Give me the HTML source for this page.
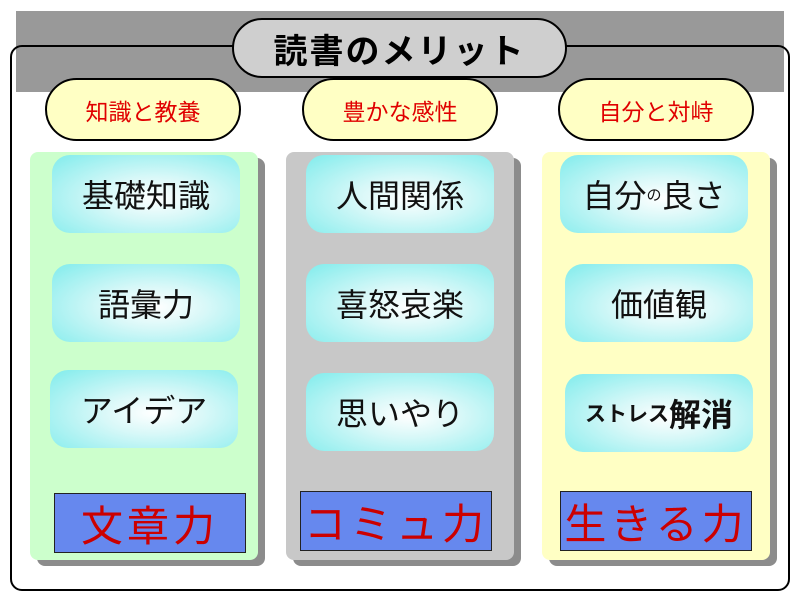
<!DOCTYPE html><html><head><meta charset="utf-8"><style>
body{margin:0;width:800px;height:601px;background:#fff;position:relative;overflow:hidden;font-family:"Liberation Sans","Noto Sans CJK JP",sans-serif}
div{position:absolute;box-sizing:border-box}
.c{display:flex;align-items:center;justify-content:center;white-space:nowrap}
.band{left:16px;top:11px;width:768px;height:81px;background:#999}
.outer{left:10px;top:45px;width:780px;height:546px;border:2px solid #000;border-radius:12px}
.title{left:232px;top:18px;width:335px;height:60px;background:#cfcfcf;border:2px solid #000;border-radius:30px;font-size:34px;font-weight:bold;letter-spacing:2px}
.pill{top:78px;width:196px;height:63px;background:#ffffc4;border:2px solid #000;border-radius:32px;color:#e00000;font-size:23px}
.col{top:152px;width:228px;height:408px;border-radius:8px;box-shadow:7px 6px 0 #8c8c8c}
.btn{width:188px;height:78px;border-radius:18px;background:radial-gradient(ellipse at 55% 55%,#fff 0%,#d8f8f8 35%,#80ecec 100%);font-size:32px;color:#111}
.blue{width:192px;height:60px;background:#6688ee;border:1px solid #222;color:#cc0000;font-size:42px;letter-spacing:4px}
</style></head><body>
<div class="band"></div>
<div class="outer"></div>
<div class="title c">読書のメリット</div>
<div class="pill c" style="left:45px">知識と教養</div>
<div class="pill c" style="left:302px">豊かな感性</div>
<div class="pill c" style="left:558px">自分と対峙</div>
<div class="col" style="left:30px;background:#ccffcc"></div>
<div class="col" style="left:286px;background:#c8c8c8"></div>
<div class="col" style="left:542px;background:#ffffc4"></div>
<div class="btn c" style="left:52px;top:155px">基礎知識</div>
<div class="btn c" style="left:52px;top:264px">語彙力</div>
<div class="btn c" style="left:50px;top:370px">アイデア</div>
<div class="btn c" style="left:306px;top:155px">人間関係</div>
<div class="btn c" style="left:306px;top:264px">喜怒哀楽</div>
<div class="btn c" style="left:306px;top:373px">思いやり</div>
<div class="btn c" style="left:560px;top:155px">自分<span style="font-size:15px">の</span>良さ</div>
<div class="btn c" style="left:565px;top:264px">価値観</div>
<div class="btn c" style="left:565px;top:374px;font-weight:bold"><span style="font-size:21px">ストレス</span>解消</div>
<div class="blue c" style="left:54px;top:493px">文章力</div>
<div class="blue c" style="left:300px;top:491px">コミュ力</div>
<div class="blue c" style="left:560px;top:491px">生きる力</div>
</body></html>
